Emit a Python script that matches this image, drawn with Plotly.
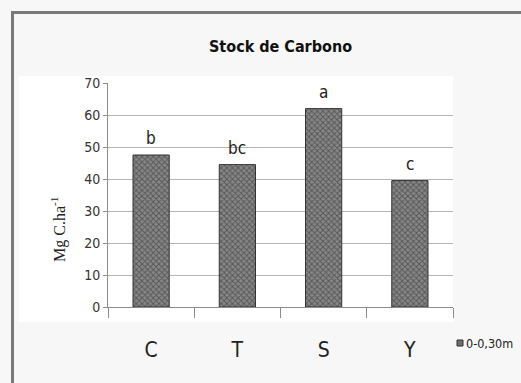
import plotly.graph_objects as go

# Carbon stock per treatment, 0-0.30 m layer
categories = ["C", "T", "S", "Y"]
stock = [47.5, 44.5, 62.0, 39.5]
letters = ["b", "bc", "a", "c"]
y_ticks = [0, 10, 20, 30, 40, 50, 60, 70]
layer_name = "0-0,30m"

W, H = 521, 383
L, R, T, B = 108, 68, 83, 76
PW, PH = W - L - R, H - T - B

SANS = "DejaVu Sans Condensed, Liberation Sans Narrow, Arial"


def px_x(p):
    return (p - L) / PW


def px_y(p):
    return (H - B - p) / PH


fig = go.Figure()
fig.add_trace(go.Bar(
    x=categories, y=stock, name=layer_name, showlegend=False,
    marker=dict(
        color="#808080",
        line=dict(color="#333333", width=1),
        pattern=dict(shape="x", fgcolor="#262626", bgcolor="#878787",
                     size=4, solidity=0.42),
    ),
))

# significance letters above each bar
for c, v, t in zip(categories, stock, letters):
    fig.add_annotation(x=c, y=v, text=t, showarrow=False, yanchor="bottom",
                       yshift=5, font=dict(family=SANS, size=17, color="#222222"))

frame = dict(color="#7a7a7a", width=3)
shapes = [
    # white inner area
    dict(type="rect", xref="paper", yref="paper", layer="below",
         x0=px_x(19), x1=px_x(453), y0=px_y(322), y1=px_y(76),
         line=dict(width=0), fillcolor="#ffffff"),
    # chart frame: top and left edges
    dict(type="line", xref="paper", yref="paper", layer="above",
         x0=px_x(11), x1=px_x(W + 10), y0=px_y(12.5), y1=px_y(12.5), line=frame),
    dict(type="line", xref="paper", yref="paper", layer="above",
         x0=px_x(12.5), x1=px_x(12.5), y0=px_y(11), y1=px_y(H + 10), line=frame),
    # legend key
    dict(type="rect", xref="paper", yref="paper", layer="above",
         x0=px_x(457), x1=px_x(463), y0=px_y(346), y1=px_y(340),
         line=dict(color="#333333", width=1), fillcolor="#6e6e6e"),
]

fig.add_annotation(xref="paper", yref="paper", x=0.5, y=px_y(47),
                   xanchor="center", yanchor="middle",
                   text="<b>Stock de Carbono</b>", showarrow=False,
                   font=dict(family=SANS, size=16, color="#111111"))
fig.add_annotation(xref="paper", yref="paper", x=px_x(58), y=px_y(230),
                   xanchor="center", yanchor="middle",
                   text="Mg C.ha<sup>-1</sup>", textangle=-90, showarrow=False,
                   font=dict(family="Liberation Serif, DejaVu Serif", size=16,
                             color="#222222"))
fig.add_annotation(xref="paper", yref="paper", x=px_x(464), y=px_y(343),
                   xanchor="left", yanchor="middle", text=layer_name,
                   showarrow=False,
                   font=dict(family=SANS, size=12.5, color="#222222"))

fig.update_layout(
    width=W, height=H,
    margin=dict(l=L, r=R, t=T, b=B),
    paper_bgcolor="#f7f7f7", plot_bgcolor="#ffffff",
    bargap=0.58, shapes=shapes,
    xaxis=dict(showline=True, linecolor="#8c8c8c", linewidth=1,
               ticks="outside", tickson="boundaries", ticklen=10,
               tickcolor="#8c8c8c", ticklabelstandoff=24,
               tickfont=dict(family=SANS, size=21, color="#222222")),
    yaxis=dict(range=[0, 70], tickvals=y_ticks, showline=True,
               linecolor="#8c8c8c", linewidth=1, ticks="outside", ticklen=4,
               tickcolor="#8c8c8c", showgrid=True, gridcolor="#b5b5b5",
               zeroline=False,
               tickfont=dict(family=SANS, size=14, color="#333333")),
)

fig.write_html("out.html")
